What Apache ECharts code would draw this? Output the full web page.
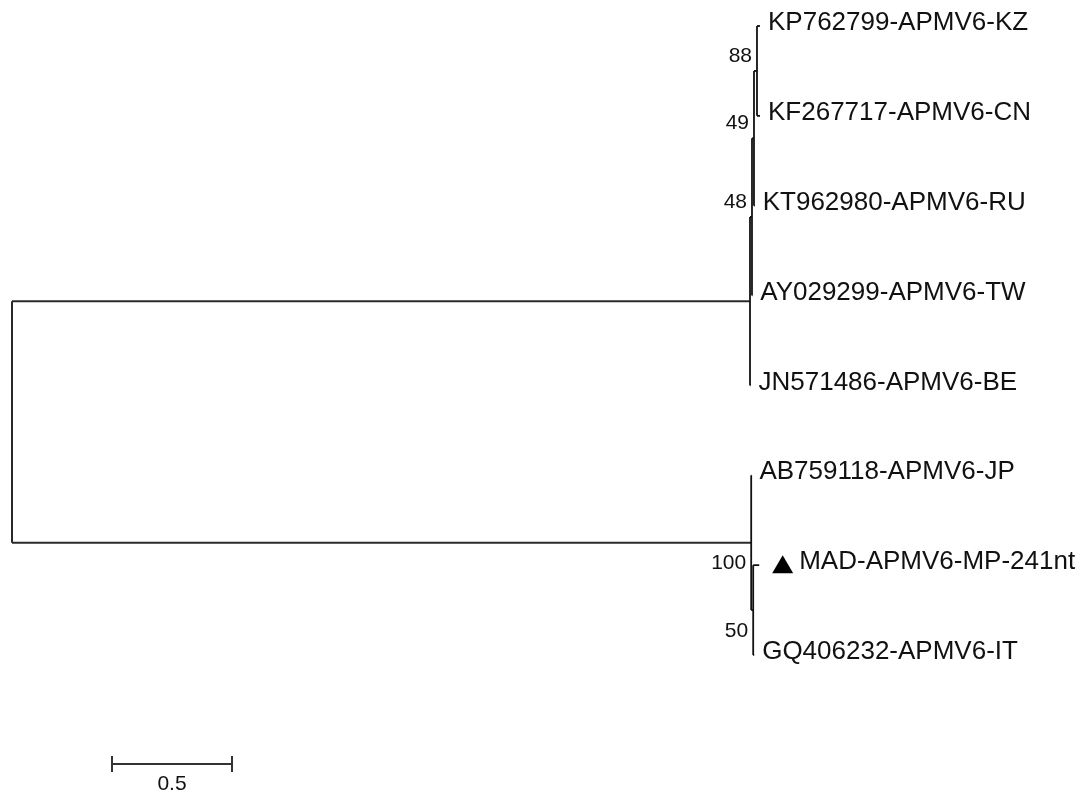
<!DOCTYPE html>
<html>
<head>
<meta charset="utf-8">
<script src="https://cdn.jsdelivr.net/npm/echarts@6/dist/echarts.min.js"></script>
<style>
html,body{margin:0;padding:0;background:#fff;}
#chart{width:1080px;height:795px;}
</style>
</head>
<body>
<div id="chart"></div>
<script>
// ---- DATA ----
const leafNames = [
  "KP762799-APMV6-KZ",
  "KF267717-APMV6-CN",
  "KT962980-APMV6-RU",
  "AY029299-APMV6-TW",
  "JN571486-APMV6-BE",
  "AB759118-APMV6-JP",
  "MAD-APMV6-MP-241nt",
  "GQ406232-APMV6-IT"
];
const leafBranchLengths = [0.0125, 0.0125, 0.003, 0.001, 0.002, 0.001, 0.025, 0.004];
const markedLeaves = ["MAD-APMV6-MP-241nt"];
// internal nodes: id, parent, branch length, bootstrap
const internalNodes = ["root", "cladeA", "n48", "n49", "n88", "cladeB", "n50"];
const internalParents = [null, "root", "cladeA", "n48", "n49", "root", "cladeB"];
const internalLengths = [0, 3.075, 0.0083, 0.0083, 0.0125, 3.08, 0.0083];
const bootstrapValues = [null, null, 48, 49, 88, 100, 50];
const childrenOf = {
  root: ["cladeA", "cladeB"],
  cladeA: ["n48", "JN571486-APMV6-BE"],
  n48: ["n49", "AY029299-APMV6-TW"],
  n49: ["n88", "KT962980-APMV6-RU"],
  n88: ["KP762799-APMV6-KZ", "KF267717-APMV6-CN"],
  cladeB: ["AB759118-APMV6-JP", "n50"],
  n50: ["MAD-APMV6-MP-241nt", "GQ406232-APMV6-IT"]
};
const scaleBarLength = 0.5;
const scaleBarLabel = "0.5";

// ---- LAYOUT (computed from branch lengths & leaf order) ----
const nodes = {};
internalNodes.forEach((id, i) => nodes[id] = {id, len: internalLengths[i], boot: bootstrapValues[i], leaf: false});
leafNames.forEach((n, i) => nodes[n] = {id: n, len: leafBranchLengths[i], leaf: true, order: i});
function layout(id, x) {
  const nd = nodes[id];
  nd.x = x;
  if (nd.leaf) { nd.y = nd.order; return nd.y; }
  const ys = childrenOf[id].map(c => layout(c, x + nodes[c].len));
  nd.y = (Math.min(...ys) + Math.max(...ys)) / 2;
  return nd.y;
}
layout("root", 0);

const segments = [];
const bootLabels = [];
internalNodes.forEach(id => {
  const nd = nodes[id];
  const ch = childrenOf[id].map(c => nodes[c]);
  const ys = ch.map(c => c.y);
  segments.push([nd.x, Math.min(...ys), nd.x, Math.max(...ys)]);
  ch.forEach((c, k) => {
    segments.push([nd.x, c.y, c.x, c.y]);
    if (!c.leaf && c.boot != null) bootLabels.push([c.x, c.y, String(c.boot), k === 0 ? 'above' : 'below']);
  });
});
const leafLabels = leafNames.map(n => [nodes[n].x, nodes[n].y, n, markedLeaves.includes(n) ? 1 : 0]);

// ---- CHART ----
const chart = echarts.init(document.getElementById('chart'), null, {renderer: 'canvas'});
const LINE = '#111';
const FONT = 'Liberation Sans, Arial, sans-serif';
chart.setOption({
  backgroundColor: '#fff',
  animation: false,
  grid: {left: 12, top: 26, width: 1008, height: 629},
  xAxis: {type: 'value', min: 0, max: 4.2, show: false},
  yAxis: {type: 'value', min: 0, max: 7, inverse: true, show: false},
  series: [
    {
      type: 'custom', data: segments, clip: false,
      renderItem: (params, api) => {
        const p1 = api.coord([api.value(0), api.value(1)]);
        const p2 = api.coord([api.value(2), api.value(3)]);
        const long = Math.abs(p2[0] - p1[0]) > 100 || (api.value(0) === 0);
        return {type: 'line', shape: {x1: p1[0], y1: p1[1], x2: p2[0], y2: p2[1]},
          style: {stroke: long ? '#2a2a2a' : LINE, lineWidth: long ? 2 : 1.8}};
      }
    },
    {
      type: 'custom', data: leafLabels, clip: false,
      renderItem: (params, api) => {
        const p = api.coord([api.value(0), api.value(1)]);
        const marked = api.value(3) === 1;
        const children = [];
        let tx = p[0] + 8;
        if (marked) {
          const l = p[0] + 13, b = p[1] + 8;
          children.push({type: 'polygon', shape: {points: [[l, b], [l + 21, b], [l + 10.5, b - 18]]}, style: {fill: '#000'}});
          tx = p[0] + 40;
        }
        children.push({type: 'text', x: tx, y: p[1] - 3,
          style: {text: leafLabels[params.dataIndex][2], fill: '#111', font: '26px ' + FONT, textAlign: 'left', textVerticalAlign: 'middle'}});
        return {type: 'group', children};
      }
    },
    {
      type: 'custom', data: bootLabels, clip: false,
      renderItem: (params, api) => {
        const p = api.coord([api.value(0), api.value(1)]);
        const d = bootLabels[params.dataIndex];
        return {type: 'text', x: p[0] - 5, y: p[1] + (d[3] === 'above' ? -15 : 21),
          style: {text: d[2], fill: '#111', font: '21px ' + FONT, textAlign: 'right', textVerticalAlign: 'middle'}};
      }
    },
    {
      type: 'custom', data: [[scaleBarLength]], clip: false,
      renderItem: (params, api) => {
        const x0 = 112;
        const w = api.size([api.value(0), 0])[0];
        const y = 764;
        return {type: 'group', children: [
          {type: 'line', shape: {x1: x0, y1: y, x2: x0 + w, y2: y}, style: {stroke: '#333', lineWidth: 2}},
          {type: 'line', shape: {x1: x0, y1: y - 8, x2: x0, y2: y + 8}, style: {stroke: '#333', lineWidth: 2}},
          {type: 'line', shape: {x1: x0 + w, y1: y - 8, x2: x0 + w, y2: y + 8}, style: {stroke: '#333', lineWidth: 2}},
          {type: 'text', x: x0 + w / 2, y: y + 20, style: {text: scaleBarLabel, fill: '#111', font: '21px ' + FONT, textAlign: 'center', textVerticalAlign: 'middle'}}
        ]};
      }
    }
  ]
});
</script>
</body>
</html>
